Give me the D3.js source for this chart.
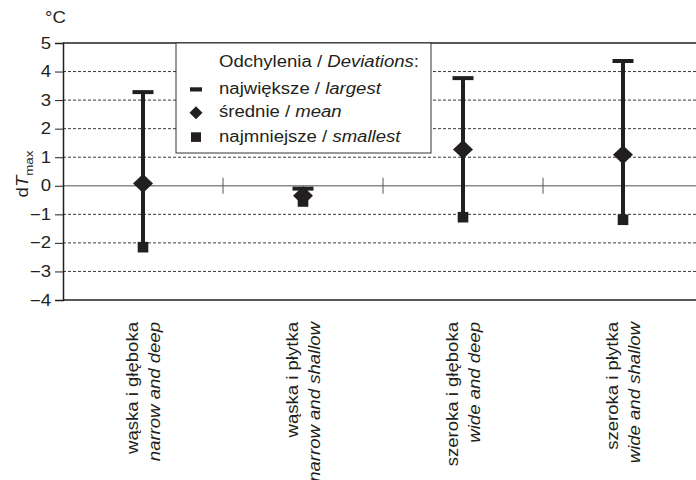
<!DOCTYPE html>
<html>
<head>
<meta charset="utf-8">
<script src="https://cdn.jsdelivr.net/npm/d3@7"></script>
<style>
  html, body { margin: 0; padding: 0; background: #fff; }
  svg { display: block; font-family: "Liberation Sans", Arial, Helvetica, sans-serif; }
</style>
</head>
<body>
<svg id="chart" width="696" height="480"></svg>
<script>
const categoriesPL = ["wąska i głęboka", "wąska i płytka", "szeroka i głęboka", "szeroka i płytka"];
const categoriesEN = ["narrow and deep", "narrow and shallow", "wide and deep", "wide and shallow"];
const largest  = [3.28, -0.1, 3.77, 4.37];
const mean     = [0.08, -0.35, 1.27, 1.09];
const smallest = [-2.15, -0.55, -1.1, -1.19];
const yTicks = [5, 4, 3, 2, 1, 0, -1, -2, -3, -4];
const legendTitle = ["Odchylenia / ", "Deviations", ":"];
const legendItems = [["największe / ", "largest"], ["średnie / ", "mean"], ["najmniejsze / ", "smallest"]];

const svg = d3.select("#chart");
const dark = "#231f20";
const FS = 16;      // font size
const SX = 1.16;    // horizontal stretch of the reference lettering

// text helper: positioned group with horizontal stretch
function label(parent, x, y, rot, anchor) {
  return parent.append("g")
    .attr("transform", `translate(${x},${y}) rotate(${rot || 0}) scale(${SX},1)`)
    .append("text").attr("text-anchor", anchor || "start")
    .attr("font-size", FS).attr("fill", dark);
}

const x = d3.scaleBand().domain(d3.range(categoriesPL.length)).range([63, 703]).padding(0);
const y = d3.scaleLinear().domain([-4, 5]).range([300, 43]);

// dashed gridlines
svg.append("g").selectAll("line").data(yTicks.filter(v => v !== 0 && v !== 5 && v !== -4))
  .join("line")
  .attr("x1", 63).attr("x2", 696)
  .attr("y1", d => y(d)).attr("y2", d => y(d))
  .attr("stroke", "#3a3a3a").attr("stroke-width", 1).attr("stroke-dasharray", "3,2");

// top and bottom frame lines
svg.append("g").selectAll("line").data([5, -4]).join("line")
  .attr("x1", 63).attr("x2", 696)
  .attr("y1", d => y(d)).attr("y2", d => y(d))
  .attr("stroke", dark).attr("stroke-width", 1.5);

// zero line
svg.append("line").attr("x1", 63).attr("x2", 696).attr("y1", y(0)).attr("y2", y(0))
  .attr("stroke", "#8a8a8a").attr("stroke-width", 1.6);
svg.append("g").selectAll("line").data(d3.range(1, categoriesPL.length)).join("line")
  .attr("x1", d => x(d)).attr("x2", d => x(d))
  .attr("y1", y(0) - 8).attr("y2", y(0) + 8)
  .attr("stroke", "#555").attr("stroke-width", 1);

// y axis
const yAxis = d3.axisLeft(y).tickValues(yTicks).tickSize(8).tickFormat(() => "");
const ya = svg.append("g").attr("transform", "translate(63,0)").call(yAxis);
ya.select(".domain").attr("stroke", dark).attr("stroke-width", 1.5);
ya.selectAll(".tick line").attr("stroke", dark).attr("stroke-width", 1);
yTicks.forEach(v => {
  label(svg, 51, y(v) + 5.6, 0, "end").text(v < 0 ? "\u2212" + Math.abs(v) : String(v));
});

// unit
label(svg, 45, 23, 0, "start").text("°C");

// y label dT_max
const yl = label(svg, 28, 174, -90, "middle");
yl.append("tspan").text("d");
yl.append("tspan").attr("font-style", "italic").text("T");
yl.append("tspan").attr("font-size", 11.5).attr("dy", 5).text("max");

// legend box
const lg = svg.append("g");
lg.append("rect").attr("x", 176).attr("y", 43).attr("width", 255).attr("height", 110)
  .attr("fill", "#fff").attr("stroke", "#333").attr("stroke-width", 1);
const lt = label(lg, 219, 66.7, 0, "start");
lt.append("tspan").text(legendTitle[0]);
lt.append("tspan").attr("font-style", "italic").text(legendTitle[1]);
lt.append("tspan").text(legendTitle[2]);
const itemY = [94, 117.3, 141.7];
legendItems.forEach((it, i) => {
  const t = label(lg, 219, itemY[i], 0, "start");
  t.append("tspan").text(it[0]);
  t.append("tspan").attr("font-style", "italic").text(it[1]);
});
const lsx = 196;
lg.append("line").attr("x1", lsx - 6).attr("x2", lsx + 6).attr("y1", itemY[0] - 4.6).attr("y2", itemY[0] - 4.6)
  .attr("stroke", dark).attr("stroke-width", 4.2);
const dy2 = itemY[1] - 4.6;
lg.append("path").attr("d", `M${lsx},${dy2-6.5}L${lsx+6.5},${dy2}L${lsx},${dy2+6.5}L${lsx-6.5},${dy2}Z`).attr("fill", dark);
lg.append("rect").attr("x", lsx - 5).attr("y", itemY[2] - 4.6 - 4.8).attr("width", 10).attr("height", 9.6).attr("fill", dark);

// error bars
const cx = i => x(i) + x.bandwidth() / 2;
const g = svg.append("g");
const idx = d3.range(categoriesPL.length);
g.selectAll(".stem").data(idx).join("line")
  .attr("x1", cx).attr("x2", cx)
  .attr("y1", i => y(largest[i])).attr("y2", i => y(smallest[i]))
  .attr("stroke", dark).attr("stroke-width", 4);
g.selectAll(".cap").data(idx).join("line")
  .attr("x1", i => cx(i) - 10.5).attr("x2", i => cx(i) + 10.5)
  .attr("y1", i => y(largest[i])).attr("y2", i => y(largest[i]))
  .attr("stroke", dark).attr("stroke-width", 4);
g.selectAll(".sq").data(idx).join("rect")
  .attr("x", i => cx(i) - 5.3).attr("y", i => y(smallest[i]) - 5.3)
  .attr("width", 10.6).attr("height", 10.6).attr("fill", dark);
g.selectAll(".dia").data(idx).join("path")
  .attr("d", i => { const px = cx(i), py = y(mean[i]); return `M${px},${py-9.5}L${px+10},${py}L${px},${py+9.5}L${px-10},${py}Z`; })
  .attr("fill", dark);

// category labels
idx.forEach(i => {
  const gg = svg.append("g").attr("transform", `translate(${cx(i)},322) rotate(-90) scale(${SX},1)`);
  const t = gg.append("text").attr("text-anchor", "end").attr("font-size", FS).attr("fill", dark);
  t.append("tspan").attr("x", 0).attr("y", -5).text(categoriesPL[i]);
  t.append("tspan").attr("x", 0).attr("y", 17).attr("font-style", "italic").text(categoriesEN[i]);
});
</script>
</body>
</html>
